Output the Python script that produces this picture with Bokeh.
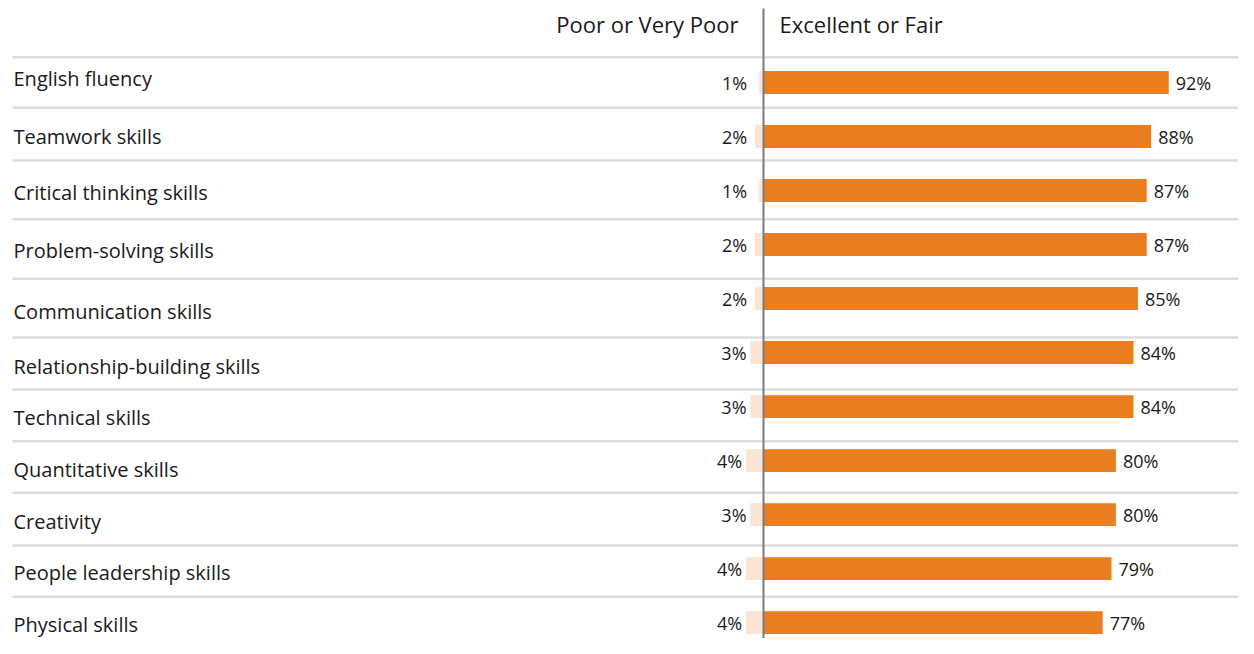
from bokeh.plotting import figure
from bokeh.models import Range1d, ColumnDataSource
from bokeh.core.properties import value
from bokeh.embed import file_html
from bokeh.resources import INLINE

# ---------------- data ----------------
categories = [
    "English fluency",
    "Teamwork skills",
    "Critical thinking skills",
    "Problem-solving skills",
    "Communication skills",
    "Relationship-building skills",
    "Technical skills",
    "Quantitative skills",
    "Creativity",
    "People leadership skills",
    "Physical skills",
]
poor = [1, 2, 1, 2, 2, 3, 3, 4, 3, 4, 4]
excellent = [92, 88, 87, 87, 85, 84, 84, 80, 80, 79, 77]
header_left = "Poor or Very Poor"
header_right = "Excellent or Fair"

# ---------------- layout (pixels of the 1254x654 reference) ----------------
W, H = 1238, 638
ZERO_PX = 763.0
PX_PER_PCT = 4.405
ROW0_PX = 86.5
ROW_STEP = 54.35
sep_px = [61, 112, 165, 224, 284, 343, 395.5, 447.5, 499.3, 552.3, 604]
label_base_px = [88.3, 147.3, 203.7, 261.7, 323.3, 378.3, 430, 481.7, 534, 586, 638.3]

ORANGE = "#E87E1F"
PEACH = "#FBE4D3"
FONT = "Open Sans"
TXT = "#1a1a1a"
DESC = 0.3          # renderer places the glyph box bottom at y; lift by descent

FS_VAL, FS_LAB, FS_HEAD = 18, 20, 22


def xp(px):
    return (px - ZERO_PX) / PX_PER_PCT


def yp(py):
    return (py - ROW0_PX) / ROW_STEP


idx = list(range(len(categories)))

p = figure(
    width=W, height=H,
    x_range=Range1d(xp(0), xp(W)),
    y_range=Range1d(yp(646), yp(4)),
    x_axis_type=None, y_axis_type=None,
    output_backend="svg", toolbar_location=None,
    min_border=0, outline_line_color=None,
)
p.grid.visible = False
p.background_fill_color = "white"
p.border_fill_color = "white"

# separators
p.segment(x0=[xp(12)] * len(sep_px), x1=[xp(1260)] * len(sep_px),
          y0=[yp(s) for s in sep_px], y1=[yp(s) for s in sep_px],
          line_color="#dcdcdc", line_width=2.5)

bar_h = 23 / ROW_STEP
val_shift = (6.0 - DESC * FS_VAL) / ROW_STEP
src = ColumnDataSource(dict(
    y=idx,
    poor_left=[-v for v in poor],
    exc=excellent,
    exc_txt=[f"{v}%" for v in excellent],
    poor_txt=[f"{v}%" for v in poor],
    poor_tx=[min(-3.7, -v - 0.85) for v in poor],
    ty=[i + val_shift for i in idx],
))

p.hbar(y="y", left="poor_left", right=0, height=bar_h, source=src,
       fill_color=PEACH, line_color=None)
p.hbar(y="y", left=0, right="exc", height=bar_h, source=src,
       fill_color=ORANGE, line_color=None)

p.text(x="exc", y="ty", text="exc_txt", source=src, x_offset=7,
       text_align="left", text_baseline="alphabetic",
       text_font=value(FONT), text_font_size=f"{FS_VAL}px", text_color=TXT)
p.text(x="poor_tx", y="ty", text="poor_txt", source=src,
       text_align="right", text_baseline="alphabetic",
       text_font=value(FONT), text_font_size=f"{FS_VAL}px", text_color=TXT)

# category labels
p.text(x=[xp(13)] * len(categories),
       y=[yp(b - DESC * FS_LAB) for b in label_base_px],
       text=categories, text_align="left", text_baseline="alphabetic",
       text_font=value(FONT), text_font_size=f"{FS_LAB}px", text_color=TXT)

# headers
hy = yp(34.7 - DESC * FS_HEAD)
p.text(x=[xp(738)], y=[hy], text=[header_left], text_align="right",
       text_baseline="alphabetic", text_font=value(FONT),
       text_font_size=f"{FS_HEAD}px", text_color=TXT)
p.text(x=[xp(779)], y=[hy], text=[header_right], text_align="left",
       text_baseline="alphabetic", text_font=value(FONT),
       text_font_size=f"{FS_HEAD}px", text_color=TXT)

# zero line
p.segment(x0=[0], x1=[0], y0=[yp(12)], y1=[yp(700)],
          line_color="#7a7a7a", line_width=2)

open("out.html", "w").write(file_html(p, INLINE))
